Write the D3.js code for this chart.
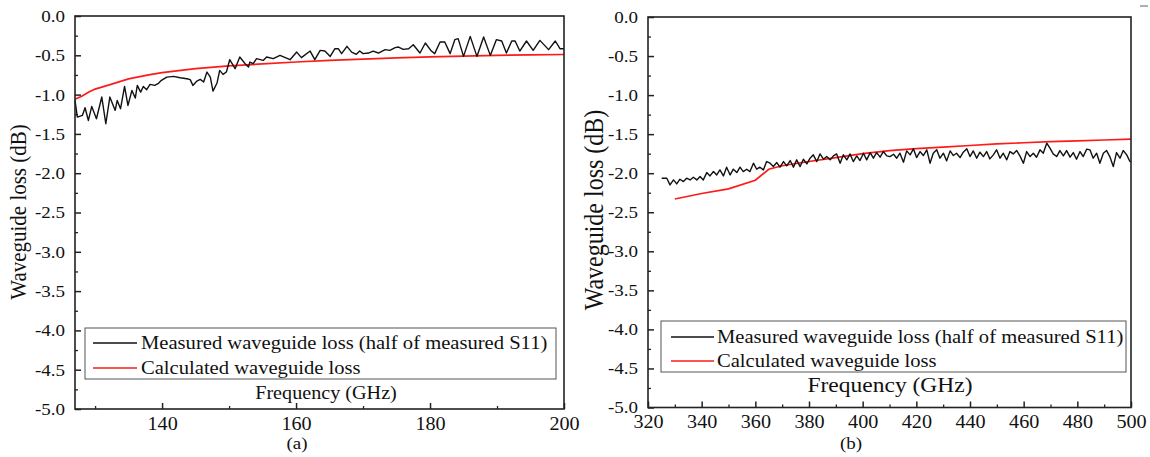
<!DOCTYPE html>
<html><head><meta charset="utf-8">
<script src="https://cdn.jsdelivr.net/npm/d3@7"></script>
<style>
html,body{margin:0;padding:0;background:#fff;}
svg{display:block;}
text{font-family:"Liberation Serif","Times New Roman",serif;fill:#111;}
</style></head><body>
<svg id="chart" width="1150" height="457"></svg>
<script>
// ---- Panel (a): 127–200 GHz ----
const freqA = [127.0,127.35,128.1,128.5,129.0,129.5,130.2,131.0,131.6,132.2,133.0,133.3,133.8,134.4,134.9,135.5,136.0,136.3,136.8,137.2,137.7,138.2,138.9,139.4,139.9,140.7,141.7,142.7,143.7,144.2,144.6,145.2,145.7,146.2,146.7,147.2,147.6,148.2,148.6,149.1,149.6,150.1,150.9,151.6,152.4,152.9,153.1,153.6,154.1,155.1,155.6,156.6,157.6,159.1,160.1,160.8,162.1,162.8,163.6,164.3,165.1,165.8,166.3,166.8,167.6,168.3,169.0,169.5,170.0,170.8,171.5,172.3,173.3,174.0,174.8,175.3,176.0,176.8,177.5,178.5,179.3,180.2,180.7,181.5,182.2,183.0,183.7,184.2,185.0,186.0,187.0,188.0,189.0,189.9,190.7,191.4,192.2,192.7,193.4,194.4,195.4,196.4,197.7,198.7,199.4,200.0];
const measA = [-1.074,-1.287,-1.265,-1.167,-1.329,-1.150,-1.307,-1.031,-1.371,-1.031,-1.201,-1.074,-1.180,-0.896,-1.138,-0.947,-1.044,-0.883,-0.968,-0.896,-0.938,-0.870,-0.883,-0.861,-0.819,-0.777,-0.768,-0.785,-0.798,-0.810,-0.883,-0.828,-0.806,-0.840,-0.713,-0.777,-0.955,-0.853,-0.692,-0.743,-0.713,-0.556,-0.670,-0.522,-0.607,-0.650,-0.586,-0.607,-0.543,-0.565,-0.522,-0.543,-0.501,-0.556,-0.459,-0.530,-0.446,-0.556,-0.437,-0.446,-0.514,-0.416,-0.416,-0.479,-0.386,-0.459,-0.488,-0.446,-0.479,-0.471,-0.446,-0.471,-0.428,-0.437,-0.403,-0.395,-0.424,-0.416,-0.365,-0.471,-0.344,-0.446,-0.479,-0.331,-0.331,-0.479,-0.301,-0.288,-0.514,-0.259,-0.514,-0.267,-0.501,-0.301,-0.318,-0.471,-0.318,-0.318,-0.446,-0.318,-0.437,-0.310,-0.428,-0.318,-0.416,-0.416];
const calcFreqA = [127,128,129,130,132,135,138,140,145,150,155,160,165,170,175,180,185,190,195,200];
const calcA = [-1.06,-1.02,-0.97,-0.93,-0.88,-0.80,-0.75,-0.72,-0.67,-0.635,-0.61,-0.585,-0.565,-0.548,-0.533,-0.52,-0.51,-0.50,-0.495,-0.49];

// ---- Panel (b): 320–500 GHz ----
const freqB = [325.1,327.0,328.2,329.5,330.7,331.9,333.2,334.4,335.7,336.9,338.2,339.4,340.6,341.9,343.1,344.4,345.6,346.8,348.1,349.3,350.6,351.8,353.1,354.3,355.5,356.8,358.0,359.3,360.5,361.7,363.0,364.2,365.5,366.7,368.0,369.2,370.5,371.7,373.0,374.2,375.4,376.7,377.9,379.2,380.4,381.6,382.9,384.1,385.4,386.6,387.9,389.1,390.3,391.6,392.8,394.1,395.3,396.5,397.8,399.0,400.3,401.5,402.8,404.0,405.2,406.5,407.7,409.0,410.2,411.5,412.7,413.9,415.2,416.4,417.7,418.9,420.1,421.4,422.6,423.9,425.1,426.3,427.6,428.8,430.1,431.3,432.6,433.8,435.0,436.3,437.5,438.8,440.0,441.2,442.5,443.7,445.0,446.2,447.4,448.7,449.9,451.2,452.4,453.7,454.9,456.1,457.4,458.6,459.9,461.1,462.4,463.6,464.8,466.1,467.3,468.6,469.8,471.0,472.3,473.5,474.8,476.0,477.3,478.5,479.7,481.0,482.2,483.5,484.7,485.9,487.2,488.4,489.7,490.9,492.2,493.4,494.6,495.9,497.1,498.4,499.6,500.0];
const measB = [-2.064,-2.064,-2.150,-2.086,-2.137,-2.077,-2.107,-2.064,-2.086,-2.051,-2.086,-2.043,-2.086,-1.992,-2.035,-1.979,-2.022,-1.958,-2.035,-1.923,-2.022,-1.949,-1.992,-1.923,-1.979,-1.949,-1.979,-1.872,-1.949,-1.923,-1.958,-1.851,-1.872,-1.915,-1.864,-1.923,-1.851,-1.906,-1.838,-1.923,-1.829,-1.915,-1.821,-1.881,-1.808,-1.765,-1.851,-1.753,-1.821,-1.787,-1.829,-1.778,-1.753,-1.872,-1.765,-1.829,-1.753,-1.851,-1.778,-1.838,-1.744,-1.829,-1.736,-1.808,-1.736,-1.795,-1.723,-1.778,-1.787,-1.757,-1.808,-1.744,-1.859,-1.714,-1.765,-1.688,-1.800,-1.723,-1.774,-1.701,-1.872,-1.744,-1.701,-1.808,-1.744,-1.842,-1.714,-1.774,-1.744,-1.800,-1.731,-1.688,-1.787,-1.714,-1.808,-1.731,-1.787,-1.723,-1.817,-1.765,-1.701,-1.808,-1.744,-1.829,-1.723,-1.753,-1.710,-1.778,-1.872,-1.723,-1.787,-1.744,-1.795,-1.701,-1.744,-1.616,-1.680,-1.753,-1.787,-1.710,-1.778,-1.710,-1.795,-1.736,-1.821,-1.723,-1.787,-1.692,-1.701,-1.808,-1.744,-1.872,-1.744,-1.710,-1.795,-1.915,-1.736,-1.808,-1.710,-1.765,-1.851,-1.851];
const calcFreqB = [330,340,350,360,365,370,380,390,400,410,420,430,440,450,460,470,480,490,500];
const calcB = [-2.33,-2.26,-2.20,-2.09,-1.95,-1.905,-1.85,-1.80,-1.75,-1.71,-1.685,-1.665,-1.645,-1.625,-1.61,-1.595,-1.585,-1.575,-1.564];

// ---- Shared axis ticks and labels ----
const yMajor = [-5,-4.5,-4,-3.5,-3,-2.5,-2,-1.5,-1,-0.5,0];
const yMinor = [-4.75,-4.25,-3.75,-3.25,-2.75,-2.25,-1.75,-1.25,-0.75,-0.25];
const xMajorA = [140,160,180,200];
const xMinorA = [130,150,170,190];
const xMajorB = [320,340,360,380,400,420,440,460,480,500];
const xMinorB = [330,350,370,390,410,430,450,470,490];
const seriesNames = ["Measured waveguide loss (half of measured S11)", "Calculated waveguide loss"];
const seriesColors = ["#111111", "#ff1a1a"];
const yTitle = "Waveguide loss (dB)";
const xTitle = "Frequency (GHz)";

const SX = 1.12; // horizontal glyph stretch
const svg = d3.select("#chart");

function styleTicks(sel, w) {
  sel.select(".domain").remove();
  sel.selectAll(".tick line").attr("stroke", "#222").attr("stroke-width", w);
}

function drawPanel(p) {
  const x = d3.scaleLinear().domain(p.xDomain).range([p.left, p.right]);
  const y = d3.scaleLinear().domain([-5, 0]).range([p.bottom, p.top]);
  const g = svg.append("g");

  // minor ticks (inward, unlabeled)
  g.append("g").attr("transform", `translate(0,${p.bottom})`)
    .call(d3.axisBottom(x).tickValues(p.xMinor).tickSizeInner(-3).tickSizeOuter(0).tickFormat(""))
    .call(styleTicks, 1.3);
  g.append("g").attr("transform", `translate(${p.left},0)`)
    .call(d3.axisLeft(y).tickValues(yMinor).tickSizeInner(-3).tickSizeOuter(0).tickFormat(""))
    .call(styleTicks, 1.3);

  // major ticks with labels
  const bx = g.append("g").attr("transform", `translate(0,${p.bottom})`)
    .call(d3.axisBottom(x).tickValues(p.xMajor).tickSizeInner(-6).tickSizeOuter(0).tickPadding(p.xPad).tickFormat(d3.format("d")))
    .call(styleTicks, 1.5);
  bx.selectAll("text").attr("font-size", p.xTickSize)
    .attr("transform", `scale(${SX},1)`).attr("dy", "0.71em");
  bx.attr("font-family", null).attr("font-size", null);

  const ly = g.append("g").attr("transform", `translate(${p.left},0)`)
    .call(d3.axisLeft(y).tickValues(yMajor).tickSizeInner(-6).tickSizeOuter(0).tickPadding(p.yPad).tickFormat(d => d.toFixed(1)))
    .call(styleTicks, 1.5);
  ly.selectAll("text").attr("font-size", p.yTickSize)
    .attr("x", -p.yPad / SX).attr("transform", `scale(${SX},1)`);
  ly.attr("font-family", null).attr("font-size", null);

  // curves
  const line = d3.line().x(d => x(d[0])).y(d => y(d[1]));
  g.append("path").datum(d3.zip(p.calcF, p.calcV))
    .attr("d", line).attr("fill", "none").attr("stroke", seriesColors[1]).attr("stroke-width", 1.7);
  g.append("path").datum(d3.zip(p.measF, p.measV))
    .attr("d", line).attr("fill", "none").attr("stroke", seriesColors[0]).attr("stroke-width", 1.4)
    .attr("stroke-linejoin", "round");

  // frame
  g.append("rect").attr("x", p.left).attr("y", p.top)
    .attr("width", p.right - p.left).attr("height", p.bottom - p.top)
    .attr("fill", "none").attr("stroke", "#222").attr("stroke-width", 1.6);

  // legend
  const L = p.legend;
  g.append("rect").attr("x", L.x0).attr("y", L.y0).attr("width", L.x1 - L.x0).attr("height", L.y1 - L.y0)
    .attr("fill", "#fff").attr("stroke", "#555").attr("stroke-width", 1);
  seriesNames.forEach((name, i) => {
    const ry = L.rows[i];
    g.append("line").attr("x1", L.lineX[0]).attr("x2", L.lineX[1]).attr("y1", ry).attr("y2", ry)
      .attr("stroke", seriesColors[i]).attr("stroke-width", 1.6);
    g.append("text").attr("transform", `translate(${L.textX},${ry}) scale(${SX},1)`)
      .attr("dy", "0.35em").attr("font-size", L.size).text(name);
  });

  // axis titles
  g.append("text").attr("transform", `translate(${p.xTitle[0]},${p.xTitle[1]}) scale(${SX},1)`)
    .attr("text-anchor", "middle").attr("dy", "0.35em").attr("font-size", p.xTitleSize).text(xTitle);
  g.append("text").attr("transform", `translate(${p.yTitle[0]},${p.yTitle[1]}) scale(${SX},1) rotate(-90)`)
    .attr("text-anchor", "middle").attr("dy", "0.35em").attr("font-size", p.yTitleSize).text(yTitle);
  g.append("text").attr("transform", `translate(${p.tag[0]},${p.tag[1]}) scale(${SX},1)`)
    .attr("text-anchor", "middle").attr("dy", "0.35em").attr("font-size", 17).text(p.tagText);
}

drawPanel({
  xDomain: [127, 200], left: 75, right: 564, top: 16, bottom: 409,
  xMajor: xMajorA, xMinor: xMinorA, xPad: 8, yPad: 10, xTickSize: 18, yTickSize: 17,
  measF: freqA, measV: measA, calcF: calcFreqA, calcV: calcA,
  legend: { x0: 85, y0: 328, x1: 556, y1: 379, rows: [343, 368], lineX: [93, 137], textX: 141, size: 18.4 },
  xTitle: [326, 393], xTitleSize: 18, yTitle: [18, 212], yTitleSize: 21,
  tag: [297, 443], tagText: "(a)"
});

drawPanel({
  xDomain: [320, 500], left: 648, right: 1131, top: 17, bottom: 407.5,
  xMajor: xMajorB, xMinor: xMinorB, xPad: 8, yPad: 10, xTickSize: 18, yTickSize: 17,
  measF: freqB, measV: measB, calcF: calcFreqB, calcV: calcB,
  legend: { x0: 661, y0: 321, x1: 1126, y1: 372, rows: [337, 361], lineX: [671, 714], textX: 717, size: 18.4 },
  xTitle: [890, 385], xTitleSize: 21, yTitle: [594, 210], yTitleSize: 24,
  tag: [851, 443], tagText: "(b)"
});

// small stray mark in the upper-right corner
svg.append("line").attr("x1", 1140).attr("x2", 1148).attr("y1", 6).attr("y2", 6)
  .attr("stroke", "#777").attr("stroke-width", 1.2);
</script>
</body></html>
